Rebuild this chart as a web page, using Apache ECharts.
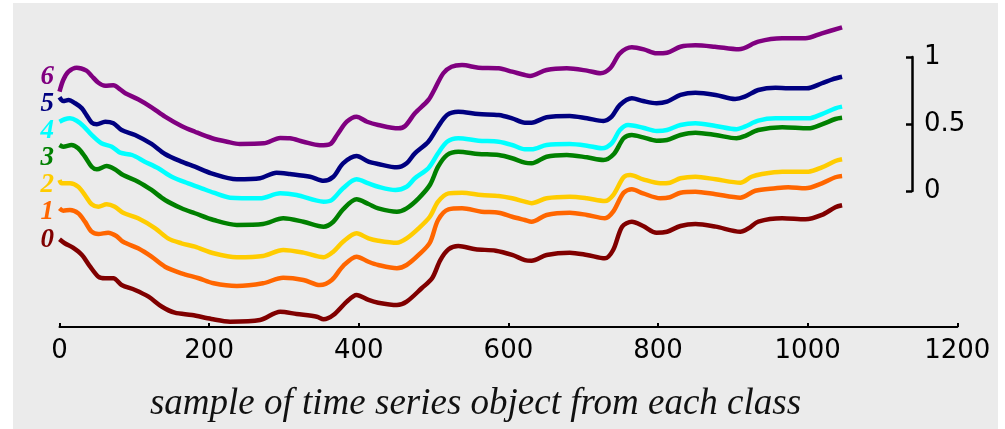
<!DOCTYPE html>
<html><head><meta charset="utf-8">
<script src="https://cdn.jsdelivr.net/npm/echarts@6/dist/echarts.min.js"></script>
<style>html,body{margin:0;padding:0;background:#fff}#c{width:1005px;height:429px}</style>
</head><body><div id="c"></div>
<script>
// class labels
const classNames = ['0','1','2','3','4','5','6'];
// one sample series per class, [sample index, value]
const class0 = [[0,0.675],[7,0.644],[18,0.61],[30,0.554],[41,0.464],[52,0.387],[61,0.375],[72,0.375],[83,0.323],[101,0.285],[119,0.233],[137,0.156],[154,0.11],[177,0.092],[203,0.062],[228,0.041],[268,0.054],[295,0.118],[317,0.1],[344,0.079],[353,0.059],[366,0.092],[384,0.195],[397,0.246],[413,0.208],[426,0.187],[451,0.169],[464,0.195],[484,0.298],[498,0.375],[509,0.515],[520,0.598],[533,0.623],[556,0.598],[583,0.587],[605,0.554],[622,0.515],[631,0.51],[651,0.554],[682,0.572],[705,0.554],[729,0.528],[740,0.592],[752,0.772],[765,0.81],[780,0.777],[798,0.725],[812,0.733],[830,0.777],[850,0.792],[877,0.772],[910,0.733],[921,0.759],[934,0.81],[966,0.836],[997,0.828],[1019,0.862],[1037,0.921],[1046,0.936]];
const class1 = [[0,0.913],[5,0.895],[14,0.9],[25,0.875],[34,0.81],[43,0.733],[52,0.715],[65,0.725],[76,0.7],[85,0.656],[105,0.605],[123,0.541],[141,0.464],[163,0.413],[186,0.375],[206,0.336],[237,0.315],[272,0.336],[299,0.379],[326,0.362],[348,0.323],[364,0.362],[379,0.469],[397,0.541],[413,0.502],[426,0.477],[451,0.452],[464,0.477],[480,0.554],[495,0.648],[506,0.823],[520,0.905],[538,0.913],[564,0.887],[587,0.879],[605,0.848],[622,0.823],[631,0.81],[651,0.862],[682,0.879],[705,0.862],[729,0.836],[740,0.887],[754,1.033],[765,1.059],[780,1.028],[803,0.99],[816,0.998],[830,1.033],[850,1.041],[877,1.021],[910,0.995],[930,1.048],[957,1.067],[974,1.075],[997,1.067],[1019,1.105],[1037,1.152],[1046,1.162]];
const class2 = [[0,1.131],[3,1.105],[14,1.105],[25,1.079],[34,1.015],[43,0.944],[52,0.925],[63,0.944],[74,0.925],[85,0.879],[105,0.836],[128,0.759],[145,0.682],[163,0.644],[181,0.618],[206,0.567],[237,0.536],[272,0.546],[299,0.592],[326,0.572],[353,0.536],[366,0.579],[379,0.656],[397,0.721],[413,0.682],[426,0.664],[451,0.648],[464,0.682],[480,0.759],[495,0.848],[506,0.964],[520,1.028],[538,1.033],[564,1.015],[587,1.008],[605,0.99],[622,0.964],[631,0.952],[651,0.99],[682,1.002],[705,0.99],[729,0.969],[740,1.015],[754,1.152],[763,1.169],[780,1.136],[803,1.105],[816,1.11],[830,1.144],[850,1.156],[877,1.136],[910,1.11],[925,1.156],[939,1.177],[966,1.195],[1001,1.195],[1019,1.228],[1037,1.277],[1046,1.29]];
const class3 = [[0,1.4],[5,1.387],[16,1.4],[25,1.375],[34,1.31],[43,1.233],[50,1.213],[63,1.238],[74,1.213],[85,1.169],[105,1.118],[123,1.054],[141,0.977],[163,0.913],[181,0.875],[206,0.823],[237,0.785],[272,0.792],[299,0.836],[326,0.81],[353,0.772],[366,0.81],[379,0.905],[397,0.982],[413,0.946],[426,0.913],[451,0.887],[464,0.913],[480,0.99],[495,1.092],[506,1.233],[518,1.323],[533,1.348],[560,1.331],[587,1.323],[605,1.298],[622,1.264],[631,1.259],[651,1.31],[678,1.323],[705,1.305],[727,1.285],[741,1.331],[754,1.452],[765,1.477],[780,1.459],[798,1.433],[812,1.438],[830,1.477],[850,1.495],[877,1.477],[905,1.452],[916,1.469],[934,1.515],[966,1.536],[1001,1.528],[1019,1.559],[1037,1.6],[1046,1.61]];
const class4 = [[0,1.579],[7,1.598],[14,1.605],[23,1.587],[32,1.546],[43,1.477],[56,1.413],[70,1.387],[81,1.341],[97,1.323],[114,1.272],[132,1.221],[150,1.156],[172,1.105],[190,1.067],[206,1.033],[228,0.995],[268,0.99],[295,1.028],[317,1.015],[353,0.964],[364,0.977],[379,1.067],[397,1.136],[413,1.105],[426,1.079],[449,1.054],[464,1.079],[475,1.144],[493,1.221],[506,1.336],[518,1.425],[533,1.452],[560,1.433],[587,1.425],[605,1.4],[622,1.367],[631,1.367],[651,1.4],[682,1.408],[705,1.395],[725,1.375],[738,1.413],[749,1.515],[760,1.554],[780,1.533],[798,1.508],[812,1.515],[830,1.554],[850,1.567],[877,1.546],[905,1.521],[916,1.541],[934,1.587],[957,1.605],[1001,1.605],[1019,1.638],[1037,1.682],[1046,1.695]];
const class5 = [[0,1.767],[5,1.738],[12,1.746],[21,1.721],[30,1.682],[36,1.631],[43,1.572],[50,1.559],[61,1.579],[72,1.567],[83,1.515],[101,1.477],[123,1.408],[141,1.331],[163,1.272],[181,1.233],[203,1.182],[237,1.136],[268,1.144],[290,1.187],[308,1.177],[335,1.156],[353,1.125],[366,1.156],[379,1.259],[397,1.315],[413,1.272],[426,1.254],[451,1.228],[464,1.259],[475,1.336],[493,1.425],[506,1.541],[518,1.631],[533,1.656],[560,1.638],[587,1.631],[605,1.605],[622,1.572],[631,1.572],[651,1.613],[682,1.623],[705,1.605],[727,1.585],[738,1.618],[749,1.708],[765,1.759],[780,1.738],[798,1.721],[812,1.733],[830,1.785],[850,1.802],[877,1.785],[903,1.754],[916,1.772],[934,1.823],[957,1.841],[974,1.836],[999,1.836],[1019,1.875],[1033,1.905],[1046,1.925]];
const class6 = [[0,1.81],[5,1.9],[12,1.964],[23,1.995],[36,1.972],[43,1.931],[52,1.879],[61,1.856],[72,1.859],[81,1.828],[88,1.798],[105,1.752],[123,1.69],[141,1.618],[163,1.546],[181,1.502],[204,1.452],[224,1.425],[241,1.408],[273,1.413],[295,1.454],[308,1.452],[326,1.425],[348,1.398],[362,1.408],[371,1.477],[384,1.579],[397,1.618],[411,1.579],[426,1.554],[453,1.528],[462,1.546],[475,1.644],[493,1.746],[502,1.836],[513,1.952],[524,2.002],[538,2.015],[560,1.995],[587,1.99],[605,1.964],[622,1.938],[629,1.931],[651,1.977],[678,1.99],[705,1.972],[723,1.952],[736,1.99],[749,2.105],[765,2.152],[781,2.136],[798,2.105],[812,2.11],[830,2.156],[850,2.167],[876,2.156],[908,2.136],[934,2.195],[966,2.221],[997,2.221],[1019,2.259],[1046,2.305]];
// x axis ticks and scale-bar ticks
const xTicks = [0, 200, 400, 600, 800, 1000, 1200];
const scaleTicks = [0, 0.5, 1];
const xTitle = 'sample of time series object from each class';

const allSeries = [class0, class1, class2, class3, class4, class5, class6];
const colors = ['#800000', '#ff6600', '#ffcc00', '#008000', '#00ffff', '#000080', '#800080'];
const labelY = [240, 212, 185, 158, 131, 104, 77];

const chart = echarts.init(document.getElementById('c'), null, {renderer: 'canvas'});
const sans = 'DejaVu Sans';
const serif = 'Liberation Serif';

const graphics = [
  {type: 'rect', z: -100, silent: true, shape: {x: 13, y: 3, width: 985, height: 426}, style: {fill: '#ebebeb'}},
  {type: 'text', silent: true, x: 475.5, y: 404, style: {text: xTitle, fontSize: 37, fontStyle: 'italic', fontFamily: serif, fill: '#111', align: 'center', verticalAlign: 'middle', textAlign: 'center', textVerticalAlign: 'middle'}}
];
classNames.forEach((n, i) => {
  graphics.push({type: 'text', silent: true, x: 54, y: labelY[i], style: {text: n, fontSize: 27, fontStyle: 'italic', fontWeight: 'bold', fontFamily: serif, fill: colors[i], align: 'right', verticalAlign: 'middle', textAlign: 'right', textVerticalAlign: 'middle'}});
});

chart.setOption({
  backgroundColor: '#ffffff',
  animation: false,
  graphic: graphics,
  grid: [
    {left: 59.5, right: 47.7, top: 2, bottom: 102, outerBoundsMode: 'none', containLabel: false},
    {left: 892, width: 20, top: 57, height: 134, outerBoundsMode: 'none', containLabel: false}
  ],
  xAxis: [
    {gridIndex: 0, type: 'value', min: xTicks[0], max: xTicks[xTicks.length - 1], interval: xTicks[1] - xTicks[0],
      axisLine: {show: true, onZero: false, lineStyle: {color: '#000', width: 2}},
      axisTick: {show: true, inside: true, length: 4, lineStyle: {color: '#000', width: 2}},
      axisLabel: {color: '#000', fontSize: 26, fontFamily: sans, margin: 11, formatter: v => String(v)},
      splitLine: {show: false}},
    {gridIndex: 1, type: 'value', show: false, min: 0, max: 1}
  ],
  yAxis: [
    {gridIndex: 0, type: 'value', min: 0, max: 2.5, show: false},
    {gridIndex: 1, type: 'value', position: 'right', min: scaleTicks[0], max: scaleTicks[2], interval: scaleTicks[1] - scaleTicks[0],
      axisLine: {show: true, onZero: false, lineStyle: {color: '#000', width: 2.5}},
      axisTick: {show: true, inside: true, length: 6, lineStyle: {color: '#000', width: 2.5}},
      axisLabel: {color: '#000', fontSize: 26, fontFamily: sans, margin: 12, formatter: v => String(v)},
      splitLine: {show: false}}
  ],
  series: allSeries.map((d, i) => ({
    type: 'line', name: classNames[i], data: d, xAxisIndex: 0, yAxisIndex: 0,
    showSymbol: false, smooth: 0.3, silent: true,
    lineStyle: {color: colors[i], width: 4.5}, z: 2 + i
  }))
});
</script></body></html>
